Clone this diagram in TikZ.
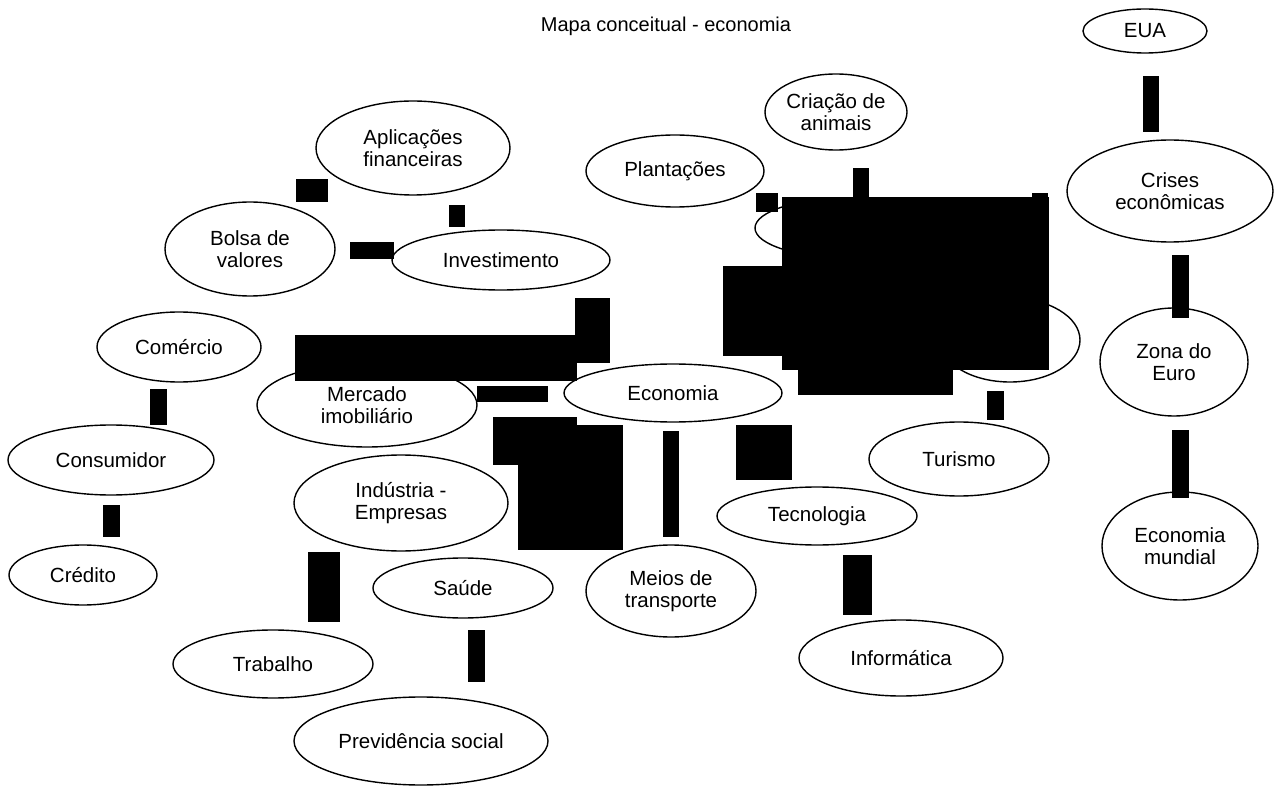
\documentclass[tikz,border=0pt]{standalone}
\usepackage{fontspec}
\setmainfont{Liberation Sans}
\usetikzlibrary{shapes.geometric}
\begin{document}
\begin{tikzpicture}[x=1pt,y=-1pt,
  concept/.style={draw, ellipse, line width=1.4pt, inner sep=0pt, align=center,
    font=\fontsize{20.5}{22}\selectfont},
  blot/.style={fill=black, draw=none}]
\useasboundingbox (0,0) rectangle (1286,786);
\node[font=\fontsize{20}{22}\selectfont] (title) at (666,26) {Mapa conceitual - economia};
% concepts
\node[concept, minimum width=124pt, minimum height=44pt]  (eua)        at (1145,31)  {EUA};
\node[concept, minimum width=206pt, minimum height=102pt] (crises)     at (1170,191) {Crises\\econômicas};
\node[concept, minimum width=148pt, minimum height=108pt] (zona)       at (1174,362) {Zona do\\Euro};
\node[concept, minimum width=156pt, minimum height=108pt] (mundial)    at (1180,546) {Economia\\mundial};
\node[concept, minimum width=142pt, minimum height=76pt]  (criacao)    at (836,112)  {Criação de\\animais};
\node[concept, minimum width=178pt, minimum height=72pt]  (plant)      at (675,171)  {Plantações};
\node[concept, minimum width=194pt, minimum height=94pt]  (aplic)      at (413,148)  {Aplicações\\financeiras};
\node[concept, minimum width=170pt, minimum height=94pt]  (bolsa)      at (250,249)  {Bolsa de\\valores};
\node[concept, minimum width=218pt, minimum height=60pt]  (invest)     at (501,260)  {Investimento};
\node[concept, minimum width=164pt, minimum height=70pt]  (comercio)   at (179,347)  {Comércio};
\node[concept, minimum width=206pt, minimum height=70pt]  (consumidor) at (111,460)  {Consumidor};
\node[concept, minimum width=148pt, minimum height=60pt]  (credito)    at (83,575)   {Crédito};
\node[concept, minimum width=220pt, minimum height=84pt]  (mercado)    at (367,405)  {Mercado\\imobiliário};
\node[concept, minimum width=218pt, minimum height=58pt]  (economia)   at (673,393)  {Economia};
\node[concept, minimum width=214pt, minimum height=96pt]  (industria)  at (401,503)  {Indústria -\\Empresas};
\node[concept, minimum width=180pt, minimum height=60pt]  (saude)      at (463,588)  {Saúde};
\node[concept, minimum width=200pt, minimum height=68pt]  (trabalho)   at (273,664)  {Trabalho};
\node[concept, minimum width=254pt, minimum height=88pt]  (previd)     at (421,741)  {Previdência social};
\node[concept, minimum width=170pt, minimum height=92pt]  (meios)      at (671,591)  {Meios de\\transporte};
\node[concept, minimum width=200pt, minimum height=58pt]  (tecno)      at (817,516)  {Tecnologia};
\node[concept, minimum width=204pt, minimum height=76pt]  (info)       at (901,658)  {Informática};
\node[concept, minimum width=180pt, minimum height=74pt]  (turismo)    at (959,459)  {Turismo};
\node[concept, minimum width=140pt, minimum height=84pt]  (hidA)       at (1010,340) {};
\node[concept, minimum width=190pt, minimum height=60pt]  (hidB)       at (850,228)  {};
% connector blots
\fill[blot] (1143,76) rectangle (1159,132);
\fill[blot] (1172,255) rectangle (1189,318);
\fill[blot] (1172,430) rectangle (1189,498);
\fill[blot] (296,179) rectangle (328,202);
\fill[blot] (449,205) rectangle (465,227);
\fill[blot] (350,242) rectangle (394,259);
\fill[blot] (575,298) rectangle (610,363);
\fill[blot] (295,335) rectangle (577,381);
\fill[blot] (477,386) rectangle (548,402);
\fill[blot] (493,417) rectangle (577,465);
\fill[blot] (518,425) rectangle (623,550);
\fill[blot] (663,431) rectangle (679,537);
\fill[blot] (736,425) rectangle (792,480);
\fill[blot] (843,555) rectangle (872,615);
\fill[blot] (987,391) rectangle (1004,420);
\fill[blot] (782,197) rectangle (1049,370);
\fill[blot] (723,266) rectangle (782,356);
\fill[blot] (798,370) rectangle (953,395);
\fill[blot] (756,193) rectangle (778,212);
\fill[blot] (853,168) rectangle (869,197);
\fill[blot] (1032,193) rectangle (1048,197);
\fill[blot] (150,389) rectangle (167,425);
\fill[blot] (103,505) rectangle (120,537);
\fill[blot] (308,552) rectangle (340,622);
\fill[blot] (468,630) rectangle (485,682);
\end{tikzpicture}
\end{document}
